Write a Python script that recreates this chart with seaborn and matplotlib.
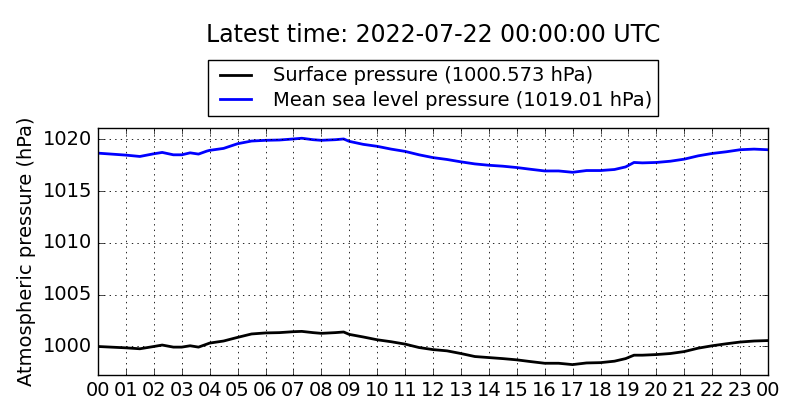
import matplotlib
matplotlib.use("Agg")
import matplotlib.pyplot as plt
import seaborn as sns
import pandas as pd

# hours since 00 UTC
hours = [0, 1, 1.5, 2, 2.3, 2.7, 3, 3.3, 3.6, 3.9, 4, 4.5, 5, 5.5, 6, 6.5, 7, 7.3, 7.7, 8,
         8.5, 8.8, 9, 9.5, 10, 10.5, 11, 11.5, 12, 12.5, 13, 13.5, 14, 14.5, 15, 15.5, 16,
         16.5, 17, 17.5, 18, 18.5, 18.9, 19.2, 19.5, 20, 20.5, 21, 21.5, 22, 22.5, 23, 23.5, 24]

surface = [1000.00, 999.87, 999.78, 1000.00, 1000.14, 999.94, 999.94, 1000.07, 999.94, 1000.23,
           1000.33, 1000.53, 1000.88, 1001.21, 1001.31, 1001.34, 1001.43, 1001.46, 1001.34, 1001.27,
           1001.34, 1001.40, 1001.17, 1000.92, 1000.65, 1000.46, 1000.23, 999.90, 999.70, 999.58,
           999.32, 999.03, 998.93, 998.83, 998.71, 998.54, 998.38, 998.38, 998.25, 998.41,
           998.44, 998.58, 998.83, 999.16, 999.16, 999.22, 999.32, 999.51, 999.84, 1000.07,
           1000.26, 1000.43, 1000.53, 1000.573]

mslp = [1018.68, 1018.49, 1018.36, 1018.62, 1018.75, 1018.52, 1018.52, 1018.71, 1018.59, 1018.88,
        1018.95, 1019.14, 1019.59, 1019.85, 1019.92, 1019.95, 1020.05, 1020.12, 1019.98, 1019.92,
        1019.98, 1020.05, 1019.82, 1019.53, 1019.34, 1019.07, 1018.85, 1018.52, 1018.25, 1018.07,
        1017.84, 1017.64, 1017.51, 1017.42, 1017.29, 1017.12, 1016.96, 1016.96, 1016.83, 1017.00,
        1017.00, 1017.10, 1017.35, 1017.78, 1017.74, 1017.78, 1017.90, 1018.10, 1018.42, 1018.65,
        1018.81, 1019.01, 1019.07, 1019.01]

tick_hours = list(range(25))
tick_labels = ["%02d" % (h % 24) for h in tick_hours]
yticks = [1000, 1005, 1010, 1015, 1020]

title = "Latest time: 2022-07-22 00:00:00 UTC"
surf_label = "Surface pressure (%s hPa)" % "1000.573"
mslp_label = "Mean sea level pressure (%s hPa)" % "1019.01"

df = pd.DataFrame({"hour": hours, "surface": surface, "mslp": mslp})

plt.style.use("classic")
fig = plt.figure(figsize=(8, 4.2), dpi=100, facecolor="white")
ax = fig.add_axes([0.1225, 0.107, 0.8375, 0.588])

sns.lineplot(data=df, x="hour", y="surface", color="black", lw=2, label=surf_label, ax=ax)
sns.lineplot(data=df, x="hour", y="mslp", color="blue", lw=2, label=mslp_label, ax=ax)

ax.set_xlim(0, 24)
ax.set_ylim(997.24, 1021.1)
ax.set_xticks(tick_hours)
ax.set_xticklabels(tick_labels)
ax.set_yticks(yticks)
ax.ticklabel_format(axis="y", useOffset=False, style="plain")
ax.tick_params(labelsize=14)
ax.grid(True, color="black", linestyle=":", lw=0.6)
ax.set_xlabel("")
ax.set_ylabel("Atmospheric pressure (hPa)", fontsize=14)

ax.legend(loc="lower center", bbox_to_anchor=(0.5, 1.049), borderaxespad=0,
          fontsize=14, frameon=True, fancybox=False, handlelength=2.2,
          handletextpad=0.8, borderpad=0.3, labelspacing=0.3)

fig.text(433 / 800, 1 - 35 / 420, title, ha="center", va="center", fontsize=17)

fig.savefig("out.png", dpi=100, facecolor="white")
